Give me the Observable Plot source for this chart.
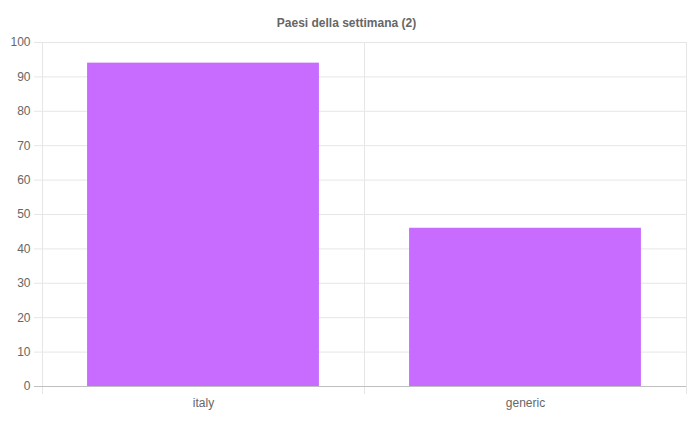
<!DOCTYPE html>
<html>
<head>
<meta charset="utf-8">
<script src="https://cdn.jsdelivr.net/npm/d3@7"></script>
<script src="https://cdn.jsdelivr.net/npm/@observablehq/plot@0.6"></script>
<style>
  html, body { margin: 0; padding: 0; background: #fff; }
  #title { box-sizing: border-box; width: 693px; height: 32px; padding-top: 16px; line-height: 14px;
           text-align: center; font: bold 12px "Liberation Sans", Arial, sans-serif; color: #666; }
</style>
</head>
<body>
<div id="title">Paesi della settimana (2)</div>
<div id="chart"></div>
<script>
const chartTitle = "Paesi della settimana (2)";
const categories = ["italy", "generic"];
const values = [94, 46];
const yTicks = [0, 10, 20, 30, 40, 50, 60, 70, 80, 90, 100];

document.getElementById("title").textContent = chartTitle;

const data = categories.map((c, i) => ({i, category: c, value: values[i]}));
const centers = categories.map((c, i) => i);
const boundaries = d3.range(categories.length + 1).map(k => k - 0.5);

const grid = "#e6e6e6";
const txt = "#666";

const plot = Plot.plot({
  width: 693,
  height: 389,
  marginTop: 10,
  marginBottom: 35,
  marginLeft: 42,
  marginRight: 7,
  style: {fontFamily: "'Liberation Sans', Arial, sans-serif", fontSize: "12px", background: "#fff"},
  x: {type: "linear", domain: [-0.5, categories.length - 0.5], axis: null},
  y: {domain: [0, 100], axis: null},
  marks: [
    Plot.gridY(yTicks, {stroke: grid, strokeOpacity: 1}),
    Plot.gridX(boundaries, {stroke: grid, strokeOpacity: 1}),
    Plot.axisX(boundaries, {tickSize: 8, tickFormat: () => "", stroke: grid, strokeOpacity: 1, label: null}),
    Plot.axisY(yTicks, {tickSize: 8, tickPadding: 4, stroke: grid, strokeOpacity: 1, fill: txt, label: null}),
    Plot.rectY(data, {x1: d => d.i - 0.36, x2: d => d.i + 0.36, y1: 0, y2: "value", fill: "#c86bff"}),
    Plot.ruleY([0], {stroke: "#bfbfbf", insetLeft: -8}),
    Plot.axisX(centers, {tickSize: 0, tickPadding: 12, tickFormat: i => categories[i], fill: txt, label: null})
  ]
});
document.getElementById("chart").appendChild(plot);
</script>
</body>
</html>
